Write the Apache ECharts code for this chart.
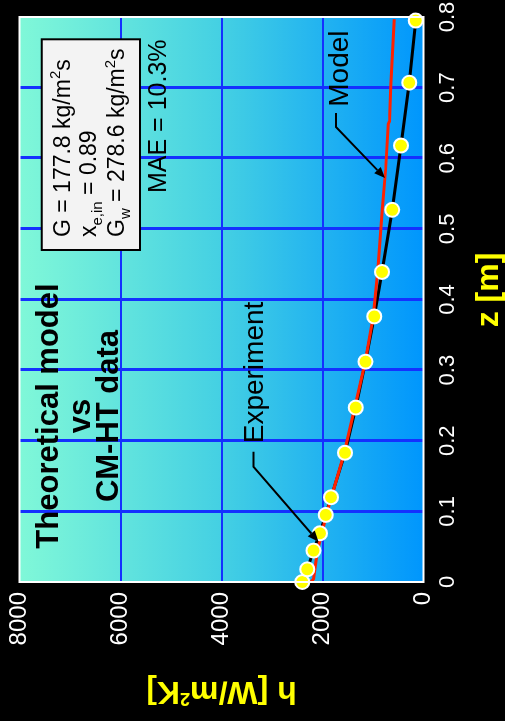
<!DOCTYPE html>
<html>
<head>
<meta charset="utf-8">
<script src="https://cdn.jsdelivr.net/npm/echarts@6/dist/echarts.min.js"></script>
<style>
  html, body { margin: 0; padding: 0; background: #000; width: 505px; height: 721px; overflow: hidden; }
  /* the plot is laid out landscape and turned a quarter turn counter-clockwise */
  #chart { position: absolute; left: 0; top: 0; width: 721px; height: 505px;
           transform-origin: 0 0; transform: translate(0, 721px) rotate(-90deg); }
</style>
</head>
<body>
<div id="chart"></div>
<script>
// axial position z [m] and heat transfer coefficient h [W/m2K]
const zExp = [0, 0.018, 0.0445, 0.069, 0.095, 0.120, 0.183, 0.247, 0.312, 0.376, 0.439, 0.527, 0.618, 0.707, 0.795];
const hExp = [2400, 2300, 2180, 2050, 1935, 1830, 1555, 1340, 1150, 975, 820, 620, 445, 280, 155];

const zModel = [0, 0.004, 0.045, 0.10, 0.18, 0.25, 0.31, 0.376, 0.44, 0.527, 0.584, 0.648, 0.652, 0.702, 0.797];
const hModel = [2230, 2180, 2100, 1905, 1580, 1350, 1160, 995, 905, 815, 750, 700, 675, 650, 578];

const zTicks = [0, 0.1, 0.2, 0.3, 0.4, 0.5, 0.6, 0.7, 0.8];
const hTicks = [0, 2000, 4000, 6000, 8000];

// annotation anchors (data coordinates the leader arrows point at)
const expArrowTip = [0.057, 2080];
const modelArrowTip = [0.572, 762];

const FONT = '"Liberation Sans", Arial, Helvetica, sans-serif';
const chart = echarts.init(document.getElementById('chart'), null, { renderer: 'canvas' });

const pairs = (xs, ys) => xs.map((x, i) => [x, ys[i]]);

chart.setOption({
  backgroundColor: '#000',
  animation: false,
  grid: {
    left: 139, right: 17, top: 19.5, bottom: 81.5,
    outerBoundsMode: 'none', containLabel: false,
    show: true, borderWidth: 0,
    backgroundColor: new echarts.graphic.LinearGradient(0, 0, 0, 1, [
      { offset: 0, color: '#80f8d8' },
      { offset: 0.5, color: '#44d0e3' },
      { offset: 1, color: '#0096fd' }
    ])
  },
  xAxis: {
    type: 'value',
    min: zTicks[0], max: zTicks[zTicks.length - 1], interval: zTicks[1] - zTicks[0],
    axisLine: { show: false }, axisTick: { show: false },
    axisLabel: { color: '#fff', fontSize: 22, margin: 13, fontFamily: FONT },
    splitLine: { show: true, showMinLine: false, showMaxLine: false, lineStyle: { color: '#1430ff', width: 3 } },
    name: 'z [m]', nameLocation: 'middle', nameGap: 49.5,
    nameTextStyle: { color: '#ffff00', fontWeight: 'bold', fontSize: 32, fontFamily: FONT, padding: [0, 0, 0, 19] }
  },
  yAxis: {
    type: 'value',
    min: hTicks[0], max: hTicks[hTicks.length - 1], interval: hTicks[1] - hTicks[0],
    axisLine: { show: false }, axisTick: { show: false },
    axisLabel: { color: '#fff', fontSize: 24, margin: 10, fontFamily: FONT, formatter: v => String(v) },
    splitLine: { show: true, showMinLine: false, showMaxLine: false, lineStyle: { color: '#1430ff', width: 2 } },
    name: '{a|h [W/m}{s|2}{a|K]}', nameLocation: 'middle', nameRotate: 90, nameGap: 93,
    nameTextStyle: {
      rich: {
        a: { color: '#ffff00', fontWeight: 'bold', fontSize: 32, fontFamily: FONT, lineHeight: 32 },
        s: { color: '#ffff00', fontWeight: 'bold', fontSize: 18, fontFamily: FONT, lineHeight: 20, verticalAlign: 'top' }
      }
    }
  },
  series: [
    {
      name: 'Experiment line', type: 'line', data: pairs(zExp, hExp),
      showSymbol: false, lineStyle: { color: '#000', width: 3 }, z: 2
    },
    {
      name: 'Model', type: 'line', data: pairs(zModel, hModel),
      showSymbol: false, lineStyle: { color: '#ff2200', width: 3 }, z: 3
    },
    {
      name: 'Experiment', type: 'scatter', data: pairs(zExp, hExp),
      symbol: 'circle', symbolSize: 14,
      itemStyle: { color: '#ffff00', borderColor: '#fff', borderWidth: 2, opacity: 1 }, z: 4
    }
  ]
});

// frame and annotations
const pLo = chart.convertToPixel({ gridIndex: 0 }, [zTicks[0], hTicks[0]]);
const pHi = chart.convertToPixel({ gridIndex: 0 }, [zTicks[zTicks.length - 1], hTicks[hTicks.length - 1]]);

function leader(tip, dx, dy, stub) {
  const elbow = [tip[0] + dx, tip[1] + dy];
  const start = [elbow[0] + stub, elbow[1]];
  const len = Math.hypot(dx, dy);
  const ux = -dx / len, uy = -dy / len;   // direction elbow -> tip
  const L = 11, W = 4.5;
  const base = [tip[0] - ux * L, tip[1] - uy * L];
  const nx = -uy, ny = ux;
  return [
    { type: 'polyline', z: 50, shape: { points: [start, elbow, base] },
      style: { stroke: '#000', lineWidth: 2, fill: null } },
    { type: 'polygon', z: 50, shape: { points: [tip, [base[0] + nx * W, base[1] + ny * W], [base[0] - nx * W, base[1] - ny * W]] },
      style: { fill: '#000' } }
  ];
}

const expTip = chart.convertToPixel({ gridIndex: 0 }, expArrowTip);
const modelTip = chart.convertToPixel({ gridIndex: 0 }, modelArrowTip);

const txt = (text, x, y, size, weight, align) => ({
  type: 'text', z: 60,
  style: { text, x, y, fontSize: size, fontWeight: weight, fontFamily: FONT, fill: '#000',
           align: align, verticalAlign: 'middle' }
});

const boxRich = {
  n: { fontSize: 23, fontFamily: FONT, fill: '#000', lineHeight: 30 },
  sup: { fontSize: 15, fontFamily: FONT, fill: '#000', lineHeight: 22, verticalAlign: 'top' },
  sub: { fontSize: 15, fontFamily: FONT, fill: '#000', lineHeight: 8, verticalAlign: 'bottom' }
};
const richTxt = (text, x, y) => ({
  type: 'text', z: 60,
  style: { text, x, y, rich: boxRich, align: 'left', verticalAlign: 'middle', fontSize: 23, fontFamily: FONT, fill: '#000' }
});

chart.setOption({
  graphic: [
    { type: 'rect', z: 40,
      shape: { x: pLo[0], y: pHi[1], width: pHi[0] - pLo[0], height: pLo[1] - pHi[1] },
      style: { fill: null, stroke: '#fff', lineWidth: 2 } },

    txt('Theoretical model', 305, 49.3, 31, 'bold', 'center'),
    txt('vs', 305, 81, 31, 'bold', 'center'),
    txt('CM-HT data', 305, 109.3, 31, 'bold', 'center'),

    { type: 'rect', z: 55, shape: { x: 471, y: 41.7, width: 210.7, height: 98.3 },
      style: { fill: '#f3f3f3', stroke: '#000', lineWidth: 2 } },
    richTxt('{n|G = 177.8 kg/m}{sup|2}{n|s}', 484, 63.7),
    richTxt('{n|x}{sub|e,in}{n| = 0.89}', 484, 90),
    richTxt('{n|G}{sub|w}{n| = 278.6 kg/m}{sup|2}{n|s}', 484, 118),

    txt('MAE = 10.3%', 528, 159.6, 25, 'normal', 'left'),

    txt('Experiment', 277.7, 255.3, 28, 'normal', 'left'),
    ...leader(expTip, 75, -65, 15),

    txt('Model', 614.3, 340.3, 28, 'normal', 'left'),
    ...leader(modelTip, 51, -49, 14)
  ]
});
</script>
</body>
</html>
